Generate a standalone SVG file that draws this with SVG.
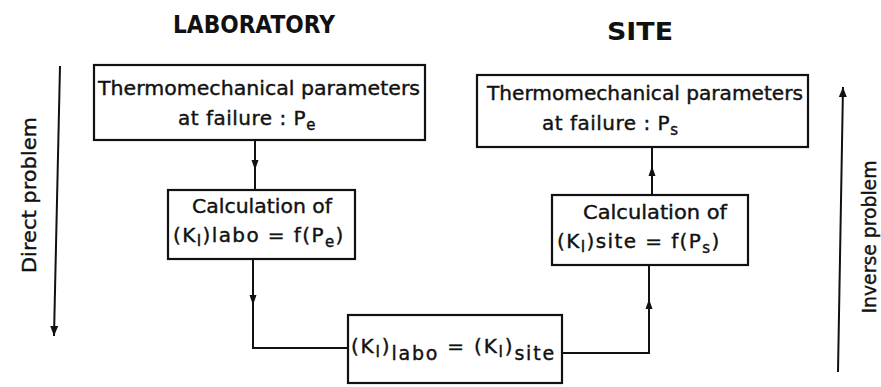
<svg xmlns="http://www.w3.org/2000/svg" width="881" height="387" viewBox="0 0 881 387">
<style>
.box{fill:none;stroke:#111;stroke-width:2.2}
.t{font-family:"DejaVu Sans","Liberation Sans",sans-serif;font-size:20px;fill:#111;stroke:#111;stroke-width:0.4}
.ti{font-family:"DejaVu Sans","Liberation Sans",sans-serif;font-size:24px;font-weight:bold;fill:#111}
.sub{font-size:15px}
.ln{fill:none;stroke:#111;stroke-width:2}
.ah{fill:#111}
</style>
<defs>
<path id="ahd" d="M0,0 L-3.5,-10 L3.5,-10 Z"/>
<marker id="mk" markerWidth="12" markerHeight="10" refX="10" refY="4" orient="auto" markerUnits="userSpaceOnUse">
<path d="M0,0 L10,4 L0,8 Z" fill="#111"/>
</marker>
</defs>
<rect width="881" height="387" fill="#fff"/>

<g id="titles">
<text class="ti" x="254" y="33" text-anchor="middle" textLength="162" lengthAdjust="spacingAndGlyphs">LABORATORY</text>
<text class="ti" x="640" y="40" text-anchor="middle" textLength="66" lengthAdjust="spacingAndGlyphs">SITE</text>
</g>

<g id="direct-problem">
<line class="ln" x1="60" y1="66" x2="54" y2="336" marker-end="url(#mk)"/>
<text class="t" transform="translate(36,195) rotate(-90)" text-anchor="middle" font-size="21" textLength="156" lengthAdjust="spacingAndGlyphs">Direct problem</text>
</g>

<g id="inverse-problem">
<line class="ln" x1="838" y1="372" x2="843" y2="87" marker-end="url(#mk)"/>
<text class="t" transform="translate(876,237) rotate(-90)" text-anchor="middle" font-size="21" textLength="153" lengthAdjust="spacingAndGlyphs">Inverse problem</text>
</g>

<g id="lab-params">
<rect class="box" x="94" y="65" width="331" height="75"/>
<text class="t" x="259" y="95" text-anchor="middle" textLength="322" lengthAdjust="spacingAndGlyphs">Thermomechanical parameters</text>
<text class="t" x="178" y="125" letter-spacing="0.5">at failure : P<tspan class="sub" dy="5">e</tspan></text>
</g>

<g id="lab-calc">
<rect class="box" x="168" y="190" width="187" height="69"/>
<text class="t" x="262" y="213" text-anchor="middle" textLength="140" lengthAdjust="spacingAndGlyphs">Calculation of</text>
<text class="t" x="173" y="242" letter-spacing="1.4">(K<tspan class="sub" dy="4">I</tspan><tspan dy="-4">)labo = f(P</tspan><tspan class="sub" dy="5">e</tspan><tspan dy="-5">)</tspan></text>
</g>

<g id="equality">
<rect class="box" x="348" y="315" width="214" height="68"/>
<text class="t" x="351" y="353" letter-spacing="1.8">(K<tspan class="sub" dy="4">I</tspan><tspan dy="-4">)</tspan><tspan font-size="19" dy="7">labo</tspan><tspan dy="-7"> = (K</tspan><tspan class="sub" dy="4">I</tspan><tspan dy="-4">)</tspan><tspan font-size="19" dy="7">site</tspan></text>
</g>

<g id="site-calc">
<rect class="box" x="552" y="195" width="196" height="70"/>
<text class="t" x="655" y="219" text-anchor="middle" textLength="144" lengthAdjust="spacingAndGlyphs">Calculation of</text>
<text class="t" x="557" y="248" letter-spacing="1.4">(K<tspan class="sub" dy="4">I</tspan><tspan dy="-4">)site = f(P</tspan><tspan class="sub" dy="5">s</tspan><tspan dy="-5">)</tspan></text>
</g>

<g id="site-params">
<rect class="box" x="477" y="75" width="331" height="72"/>
<text class="t" x="645" y="100" text-anchor="middle" textLength="316" lengthAdjust="spacingAndGlyphs">Thermomechanical parameters</text>
<text class="t" x="542" y="130" letter-spacing="0.5">at failure : P<tspan class="sub" dy="5">s</tspan></text>
</g>

<g id="connectors">
<path class="ln" d="M255,140 V190"/>
<use href="#ahd" class="ah" transform="translate(255,170)"/>
<path class="ln" d="M253,259 V348 H348"/>
<use href="#ahd" class="ah" transform="translate(253,305)"/>
<path class="ln" d="M562,353 H649 V265"/>
<use href="#ahd" class="ah" transform="translate(649,299) rotate(180)"/>
<path class="ln" d="M652,195 V147"/>
<use href="#ahd" class="ah" transform="translate(652,166) rotate(180)"/>
</g>
</svg>
